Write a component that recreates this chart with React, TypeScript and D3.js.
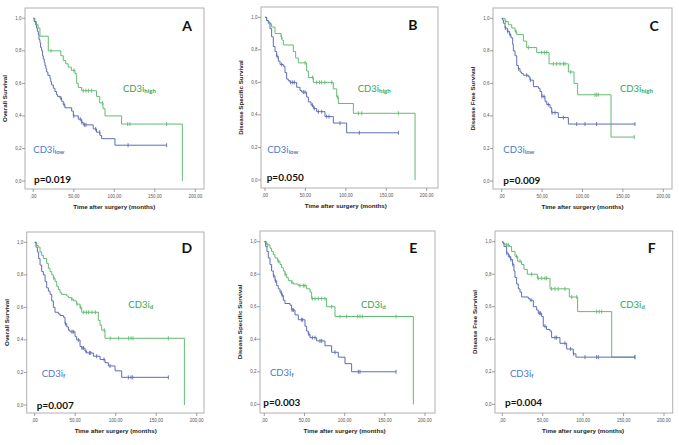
import React from 'react';
import * as d3 from 'd3';

type Pt = [number, number];

// ---------- DATA (time in months, survival proportion) ----------
const xTicks = [0, 50, 100, 150, 200];
const xTickLabels = [',00', '50,00', '100,00', '150,00', '200,00'];
const yTicks = [0, 0.2, 0.4, 0.6, 0.8, 1.0];
const yTickLabels = ['0,0', '0,2', '0,4', '0,6', '0,8', '1,0'];

// Panel A – Overall Survival, CD3i high / low
const aHigh: Pt[] = [[0,1],[2,0.98],[4,0.96],[6,0.94],[8.2,0.89],[18.5,0.8],[34,0.77],[37,0.74],[40,0.72],[43,0.7],[47,0.68],[51.4,0.66],[53.5,0.6],[55.5,0.575],[59.7,0.555],[78,0.52],[82,0.48],[86,0.445],[88.5,0.4],[109,0.35],[184,0]];
const aHighCens = [21.8,50.2,61.7,65,68,72,85.6,116.5,119.3,164.6];
const aLow: Pt[] = [[0,1],[1,0.98],[3,0.96],[4.1,0.94],[5,0.92],[6.2,0.9],[7,0.87],[8.2,0.85],[9,0.82],[10.3,0.8],[11.5,0.77],[12.3,0.75],[13.5,0.73],[14.4,0.71],[15.5,0.69],[16.5,0.67],[18,0.65],[20.6,0.63],[21.5,0.61],[22.6,0.59],[24.7,0.57],[26.7,0.55],[28.8,0.53],[30,0.52],[32.9,0.51],[35,0.49],[37,0.47],[39,0.45],[47.3,0.43],[49.4,0.4],[55.6,0.38],[59.7,0.36],[61.7,0.345],[74,0.32],[78,0.3],[82.3,0.28],[84.4,0.26],[100.8,0.22]];
const aLowCens = [34,38,50,58,60,63,65,77,82,117,164.6];

// Panel B – Disease Specific Survival, CD3i high / low
const bHigh: Pt[] = [[0,1],[2,0.98],[4.1,0.96],[8.2,0.94],[12.4,0.9],[19.8,0.88],[21,0.86],[22.7,0.83],[35,0.79],[37.9,0.75],[41.2,0.72],[51.5,0.67],[53.6,0.63],[59.8,0.6],[84.5,0.56],[88.7,0.51],[90.7,0.47],[109.3,0.41],[185.6,0]];
const bHighCens = [20.5,49.5,59,64,67.5,70,74,82.5,90,115.5,119.6,165];
const bLow: Pt[] = [[0,1],[2.1,0.98],[4.1,0.97],[6.2,0.93],[8.2,0.88],[10.3,0.82],[12.4,0.79],[14.4,0.76],[16.5,0.73],[18.6,0.71],[22.7,0.7],[24.7,0.66],[26.8,0.62],[28.9,0.61],[30.9,0.6],[39.2,0.57],[43.3,0.55],[45.4,0.54],[51.5,0.51],[53.6,0.48],[56.9,0.46],[59.8,0.44],[63.9,0.42],[74.2,0.39],[84.5,0.35],[101,0.29]];
const bLowCens = [15,20.6,31.8,34.2,36.3,47.4,49.5,58.6,61,66,70.1,76.3,79.2,92.8,116.7,165];

// Panel C – Disease Free Survival, CD3i high / low
const cHigh: Pt[] = [[0,1],[4.1,0.98],[8.2,0.96],[12.4,0.94],[16.5,0.92],[18.6,0.9],[26.8,0.86],[30.9,0.82],[43.3,0.79],[58.6,0.72],[82.5,0.67],[89.5,0.6],[94,0.53],[135.3,0.27]];
const cHighCens = [5,17.5,33,49.5,52.8,55.7,63.9,68,72.2,76.3,78.4,85.4,115.5,117.5,119.6,164.1];
const cLow: Pt[] = [[0,1],[1,0.99],[2.1,0.97],[4.1,0.94],[7,0.92],[9.5,0.9],[11.5,0.88],[13.6,0.84],[14.4,0.8],[16.5,0.77],[18.6,0.71],[20.6,0.69],[22.7,0.67],[24.7,0.66],[26.8,0.65],[33,0.64],[35,0.62],[39.2,0.58],[45.4,0.57],[47.4,0.55],[49.5,0.52],[53.6,0.49],[55.7,0.47],[59.8,0.45],[61.9,0.42],[70.1,0.39],[82.5,0.35]];
const cLowCens = [4.5,7.5,10.3,20.8,31,35.5,49.8,52.4,57.7,62.3,66,76.3,92.8,103.1,117.5,165];

// Panel D – Overall Survival, CD3i d / f
const dHigh: Pt[] = [[0,1],[2.5,0.98],[4.5,0.97],[6.6,0.94],[8.6,0.92],[10.7,0.9],[14.8,0.87],[16.9,0.84],[18.9,0.82],[21,0.8],[23,0.78],[25.1,0.76],[27.2,0.73],[29.2,0.71],[31.3,0.69],[33.3,0.68],[39.5,0.67],[41.6,0.66],[45.7,0.65],[47.7,0.64],[51.8,0.62],[56,0.6],[58,0.57],[78.6,0.52],[80.7,0.49],[82.7,0.46],[86.8,0.41],[184.8,0]];
const dHighCens = [23.5,45.9,52.1,56.3,60.5,63.8,66.6,70.8,74.9,85.9,93.3,103.6,115.9,118.9,121.4,165];
const dLow: Pt[] = [[0,1],[1.6,0.97],[3.3,0.94],[4.9,0.9],[6.6,0.86],[8.6,0.82],[10.7,0.8],[12.8,0.76],[14.8,0.72],[16.9,0.7],[18.9,0.68],[21,0.64],[23,0.6],[25.1,0.57],[29.2,0.56],[31.3,0.55],[35.4,0.54],[37.4,0.5],[39.5,0.48],[41.6,0.46],[43.6,0.45],[49.8,0.42],[51.8,0.4],[56,0.36],[58,0.35],[62.1,0.33],[64.2,0.32],[72.4,0.3],[80.7,0.28],[86.8,0.26],[90.9,0.24],[99.2,0.21],[107.4,0.17]];
const dLowCens = [38,46,47.7,53.9,58.3,60.1,63.4,67.5,69.1,76.5,85.6,93,115.6,118.9,121,165];

// Panel E – Disease Specific Survival, CD3i d / f
const eHigh: Pt[] = [[0,1],[2.9,0.98],[7.1,0.96],[9.1,0.94],[11.2,0.92],[13.3,0.9],[16.6,0.88],[19.5,0.86],[21.6,0.84],[23.7,0.82],[25.7,0.8],[27.8,0.78],[29.9,0.76],[34,0.75],[36.1,0.74],[42.3,0.73],[52.7,0.71],[56.9,0.69],[58.9,0.65],[77.6,0.6],[88,0.54],[185.5,0]];
const eHighCens = [4.2,17.4,26,34.5,44.4,48.6,50.6,59.8,63.1,67.2,71.4,75.5,83.8,94.2,102.5,116.2,119.1,122,164];
const eLow: Pt[] = [[0,1],[1.7,0.97],[3.3,0.94],[5,0.9],[7.1,0.86],[9.1,0.82],[11.2,0.79],[13.3,0.76],[15.4,0.73],[17.4,0.71],[19.5,0.69],[21.6,0.67],[23.7,0.64],[25.7,0.62],[32,0.61],[34,0.58],[38.2,0.55],[42.3,0.52],[50.6,0.48],[52.7,0.45],[54.8,0.43],[56.9,0.41],[65.2,0.39],[75.5,0.36],[83.8,0.32],[92.1,0.29],[100.4,0.25],[108.7,0.2]];
const eLowCens = [11.7,13.8,20.8,22.4,34.5,36.1,46.5,47.7,55.6,59.8,63.1,69.3,71.4,88,117,119.1,164];

// Panel F – Disease Free Survival, CD3i d / f
const fHigh: Pt[] = [[0,1],[1,0.99],[3.3,0.98],[8.7,0.97],[11.5,0.94],[15.7,0.91],[19,0.88],[23.9,0.86],[26.8,0.83],[30.9,0.8],[43.3,0.775],[59,0.71],[82.9,0.66],[93.2,0.57],[135.3,0.29]];
const fHighCens = [5.4,7.4,17.7,21.9,36.3,44.5,48.7,52.8,54.8,61,65.2,69.3,77.5,85.8,92,116.7,120,122.9,164.1];
const fLow: Pt[] = [[0,1],[1,0.99],[2.1,0.97],[5.4,0.93],[7.4,0.91],[10.3,0.89],[12.8,0.86],[14.4,0.82],[15.7,0.78],[17.7,0.74],[19.8,0.71],[21.9,0.69],[23.9,0.66],[32.2,0.65],[34.2,0.64],[38.4,0.6],[42.5,0.58],[44.5,0.56],[48.7,0.54],[50.7,0.48],[54.8,0.46],[59,0.45],[61,0.41],[71.3,0.375],[79.6,0.34],[87.8,0.31],[91.1,0.29]];
const fLowCens = [5.6,8.7,10.7,13,35.5,45.8,47.4,52.8,65.2,67.2,77.5,84.5,88.2,102.3,116.7,118.8,164.1];

const panelLetters = ['A', 'B', 'C', 'D', 'E', 'F'];
const yTitles = ['Overall Survival', 'Disease Specific Survival', 'Disease Free Survival', 'Overall Survival', 'Disease Specific Survival', 'Disease Free Survival'];
const pValues = ['p=0.019', 'p=0.050', 'p=0.009', 'p=0.007', 'p=0.003', 'p=0.004'];
const greenSubs = ['high', 'high', 'high', 'd', 'd', 'd'];
const blueSubs = ['low', 'low', 'low', 'f', 'f', 'f'];
const greenCurves = [aHigh, bHigh, cHigh, dHigh, eHigh, fHigh];
const greenCens = [aHighCens, bHighCens, cHighCens, dHighCens, eHighCens, fHighCens];
const greenEnd = [184, 185.6, 164.1, 184.8, 185.5, 164.1];
const blueCurves = [aLow, bLow, cLow, dLow, eLow, fLow];
const blueCens = [aLowCens, bLowCens, cLowCens, dLowCens, eLowCens, fLowCens];
const blueEnd = [164.6, 165, 165, 165, 164, 164.1];

// ---------- LAYOUT ----------
type Layout = { frame: [number, number, number, number]; xr: [number, number]; yr: [number, number];
  letter: Pt; gLab: Pt; bLab: Pt; pLab: Pt };
const layouts: Layout[] = [
  { frame: [25, 8, 204, 189], xr: [33.3, 195.3], yr: [181, 18.3], letter: [190, 0.92], gLab: [110.7, 0.547], bLab: [0, 0.172], pLab: [0.9, -0.012] },
  { frame: [261, 7, 438, 188], xr: [265, 426.7], yr: [180, 17.3], letter: [183, 0.92], gLab: [114.7, 0.54], bLab: [2.8, 0.166], pLab: [2.1, -0.006] },
  { frame: [493, 8, 672, 189], xr: [501.7, 663.3], yr: [181, 18.3], letter: [188.5, 0.92], gLab: [146.4, 0.547], bLab: [2, 0.172], pLab: [2, -0.018] },
  { frame: [26.7, 232, 204, 413], xr: [34.7, 196.7], yr: [405, 242.3], letter: [187.7, 0.934], gLab: [115.6, 0.596], bLab: [8.6, 0.172], pLab: [2.5, -0.025] },
  { frame: [260, 231, 435, 413], xr: [264.3, 425], yr: [404.3, 241.7], letter: [185.4, 0.93], gLab: [120.3, 0.592], bLab: [7.1, 0.176], pLab: [-1.2, -0.01] },
  { frame: [495, 231, 672.7, 413], xr: [502.3, 664], yr: [404.3, 241.7], letter: [184.8, 0.93], gLab: [145.6, 0.592], bLab: [9.5, 0.168], pLab: [3.3, -0.01] },
];

const GREEN_LINE = '#63bb72';
const BLUE_LINE = '#5f6db4';
const GREEN_TEXT = '#2fa85a';
const BLUE_TEXT = '#4e79c4';
const LABEL_FONT = 'Lato, "Open Sans", sans-serif';
const AXIS_FONT = '"Liberation Sans", Arial, sans-serif';

function survAt(curve: Pt[], t: number) {
  let s = curve[0][1];
  for (const [ti, si] of curve) if (ti <= t) s = si;
  return s;
}

function Curve({ curve, cens, end, x, y, color }: any) {
  const pts: Pt[] = [...curve, [end, curve[curve.length - 1][1]]];
  const line = d3.line<Pt>().x(d => x(d[0])).y(d => y(d[1])).curve(d3.curveStepAfter);
  return (
    <g>
      <path d={line(pts) || ''} fill="none" stroke={color} strokeWidth={1} />
      {cens.map((c: number, i: number) => {
        const cy = y(survAt(curve, c));
        return <line key={i} x1={x(c)} x2={x(c)} y1={cy - 2} y2={cy + 2} stroke={color} strokeWidth={0.9} />;
      })}
    </g>
  );
}

function Panel({ i }: { i: number }) {
  const L = layouts[i];
  const [fx0, fy0, fx1, fy1] = L.frame;
  const x = d3.scaleLinear().domain([0, 200]).range(L.xr);
  const y = d3.scaleLinear().domain([0, 1]).range(L.yr);
  const cy = (fy0 + fy1) / 2;
  return (
    <g>
      <rect x={fx0} y={fy0} width={fx1 - fx0} height={fy1 - fy0} fill="#fff" stroke="#b0b0b0" strokeWidth={1} />
      {yTicks.map((v, k) => (
        <g key={'y' + k}>
          <line x1={fx0 - 3} x2={fx0} y1={y(v)} y2={y(v)} stroke="#777" strokeWidth={0.7} />
          <text x={fx0 - 3.5} y={y(v)} dy="0.35em" textAnchor="end" fontSize={4.5} fill="#555" fontFamily={AXIS_FONT}>{yTickLabels[k]}</text>
        </g>
      ))}
      {xTicks.map((v, k) => (
        <g key={'x' + k}>
          <line x1={x(v)} x2={x(v)} y1={fy1} y2={fy1 + 3} stroke="#777" strokeWidth={0.7} />
          <text x={x(v)} y={fy1 + 8.5} textAnchor="middle" fontSize={4.5} fill="#555" fontFamily={AXIS_FONT}>{xTickLabels[k]}</text>
        </g>
      ))}
      <text x={(L.xr[0] + L.xr[1]) / 2} y={fy1 + 20} textAnchor="middle" fontSize={6.2} fontWeight="bold" fill="#222" fontFamily={AXIS_FONT}>Time after surgery (months)</text>
      <text transform={`translate(${fx0 - 20},${cy}) rotate(-90)`} textAnchor="middle" dy="0.35em" fontSize={6.2} fontWeight="bold" fill="#222" fontFamily={AXIS_FONT}>{yTitles[i]}</text>
      <Curve curve={greenCurves[i]} cens={greenCens[i]} end={greenEnd[i]} x={x} y={y} color={GREEN_LINE} />
      <Curve curve={blueCurves[i]} cens={blueCens[i]} end={blueEnd[i]} x={x} y={y} color={BLUE_LINE} />
      <text x={x(L.letter[0])} y={y(L.letter[1])} textAnchor="middle" fontSize={14} fontWeight="bold" fill="#111" fontFamily={LABEL_FONT}>{panelLetters[i]}</text>
      <text x={x(L.gLab[0])} y={y(L.gLab[1])} fontSize={9.5} fill={GREEN_TEXT} fontFamily={LABEL_FONT}>
        CD3i<tspan fontSize={6} fontWeight="bold" dy={1.2}>{greenSubs[i]}</tspan>
      </text>
      <text x={x(L.bLab[0])} y={y(L.bLab[1])} fontSize={9.5} fill={BLUE_TEXT} fontFamily={LABEL_FONT}>
        CD3i<tspan fontSize={6} fontWeight="bold" dy={1.2}>{blueSubs[i]}</tspan>
      </text>
      <text x={x(L.pLab[0])} y={y(L.pLab[1])} fontSize={10} fontWeight="bold" fill="#111" fontFamily={LABEL_FONT}>{pValues[i]}</text>
    </g>
  );
}

export default function App() {
  return (
    <svg width={679} height={445} viewBox="0 0 679 445" style={{ position: 'absolute', left: 0, top: 0, background: '#fff' }}>
      <rect x={0} y={0} width={679} height={445} fill="#fff" />
      {panelLetters.map((_, i) => <Panel key={i} i={i} />)}
    </svg>
  );
}
